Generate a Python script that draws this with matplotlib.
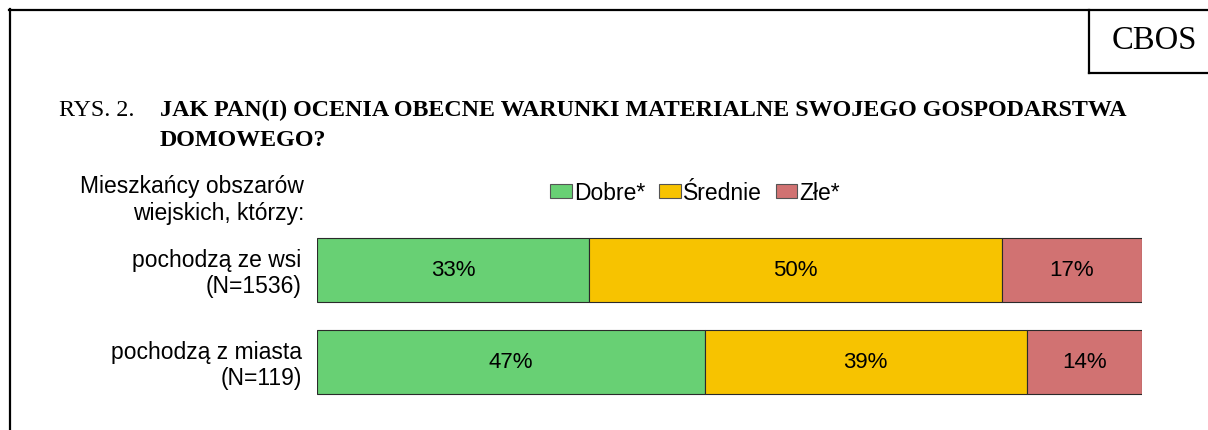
import matplotlib
matplotlib.use("Agg")
import matplotlib.pyplot as plt
from matplotlib.patches import Patch
from matplotlib.lines import Line2D

categories = ["pochodzą ze wsi\n(N=1536)", "pochodzą z miasta\n(N=119)"]
series_names = ["Dobre*", "Średnie", "Złe*"]
dobre = [33, 47]
srednie = [50, 39]
zle = [17, 14]
colors = ["#68D074", "#F7C300", "#D17272"]

W, H = 1208, 430
fig = plt.figure(figsize=(W / 100, H / 100), dpi=100)

def fx(px):
    return px / W

def fy(py):
    return 1 - py / H

# frame lines
lw = 1.6
fig.add_artist(Line2D([fx(10), fx(10)], [fy(9), fy(430)], color="black", lw=lw))
fig.add_artist(Line2D([fx(9), fx(1208)], [fy(10), fy(10)], color="black", lw=lw))
fig.add_artist(Line2D([fx(1089), fx(1089)], [fy(10), fy(73)], color="black", lw=lw))
fig.add_artist(Line2D([fx(1089), fx(1208)], [fy(73), fy(73)], color="black", lw=lw))
fig.text(fx(1154), fy(41), "CBOS", family="Liberation Serif", fontsize=23.5,
         ha="center", va="center")

# title
tfs = 17.3
fig.text(fx(59), fy(116), "RYS. 2.", family="Liberation Serif", fontsize=tfs,
         ha="left", va="baseline")
fig.text(fx(160), fy(116), "JAK PAN(I) OCENIA OBECNE WARUNKI MATERIALNE SWOJEGO GOSPODARSTWA",
         family="Liberation Serif", fontweight="bold", fontsize=tfs, ha="left", va="baseline")
fig.text(fx(160), fy(146), "DOMOWEGO?",
         family="Liberation Serif", fontweight="bold", fontsize=tfs, ha="left", va="baseline")

lfs = 16.5
# header for categories
fig.text(fx(304), fy(200), "Mieszkańcy obszarów\nwiejskich, którzy:", family="Liberation Sans",
         fontsize=lfs, ha="right", va="center", linespacing=1.2)

ax = fig.add_axes([fx(317), fy(408), fx(1142) - fx(317), (408 - 224) / H])
ypos = list(range(len(categories)))
bh = 64 / 92
left = [0] * len(categories)
for name, vals, c in zip(series_names, [dobre, srednie, zle], colors):
    bars = ax.barh(ypos, vals, left=left, height=bh, color=c, edgecolor="#2a2a2a",
                   linewidth=0.8, label=name)
    for b, v in zip(bars, vals):
        ax.text(b.get_x() + b.get_width() / 2, b.get_y() + b.get_height() / 2, f"{v}%",
                ha="center", va="center", family="Liberation Sans", fontsize=16)
    left = [l + v for l, v in zip(left, vals)]

ax.set_xlim(0, 100)
ax.set_ylim(1.5, -0.5)
ax.set_yticks(ypos)
ax.set_yticklabels(categories, family="Liberation Sans", fontsize=lfs, ha="right",
                   linespacing=1.15)
ax.tick_params(axis="y", length=0, pad=11)
ax.set_xticks([])
for s in ax.spines.values():
    s.set_visible(False)

handles = [Patch(facecolor=c, edgecolor="#555555", linewidth=0.8) for c in colors]
fig.legend(handles, series_names, loc="center", bbox_to_anchor=(fx(695), fy(193)),
           ncol=3, frameon=False, prop={"family": "Liberation Sans", "size": lfs},
           handlelength=0.95, handleheight=0.55, handletextpad=0.1, columnspacing=0.6,
           borderpad=0)

fig.savefig("out.png", dpi=100)
